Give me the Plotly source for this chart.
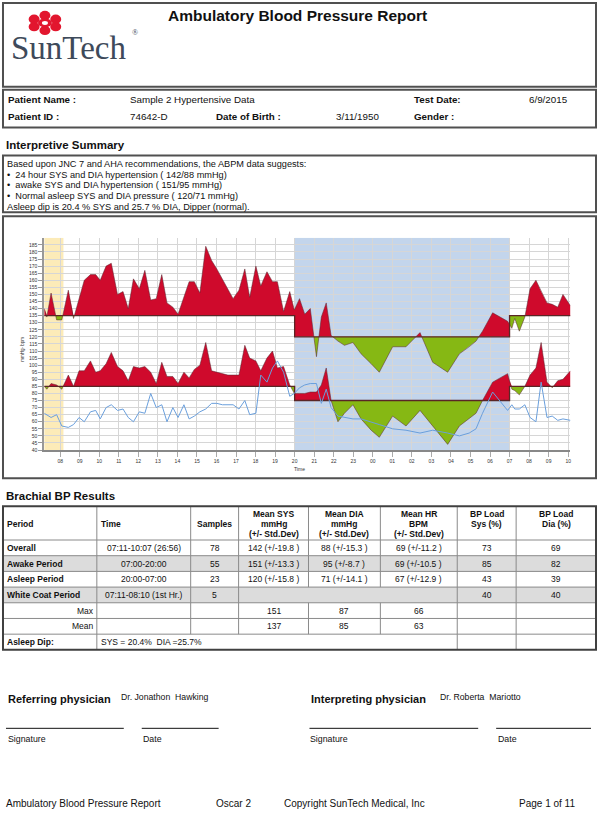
import plotly.graph_objects as go
from datetime import datetime, timedelta
import math

W, H = 600, 816
SANS = "Liberation Sans, Arial, Helvetica, sans-serif"
SERIF = "Liberation Serif, Times New Roman, serif"

# ---------------- data ----------------
times = ["07:11", "07:19", "07:32", "07:49", "08:05", "08:25", "08:41", "08:58", "09:14", "09:33",
         "09:49", "10:03", "10:21", "10:37", "10:56", "11:13", "11:29", "11:45", "12:03", "12:20",
         "12:38", "12:55", "13:12", "13:28", "13:46", "14:02", "14:20", "14:36", "14:52", "15:09",
         "15:27", "15:45", "16:01", "16:18", "16:35", "16:51", "17:09", "17:27", "17:42", "18:01",
         "18:16", "18:35", "18:52", "19:07", "19:26", "19:45", "19:59",
         "20:15", "20:31", "20:48", "21:07", "21:22", "21:37", "21:52", "22:13", "22:33", "22:59",
         "23:24", "23:55", "00:20", "01:01", "01:42", "02:25", "03:04", "03:50", "04:26", "04:56",
         "05:17", "05:37", "06:08", "06:54",
         "07:07", "07:16", "07:30", "07:47", "08:03", "08:21", "08:37", "08:55", "09:11", "09:28",
         "09:44", "10:07"]

sys_vals = [140, 134, 151, 132, 132, 153, 133, 147, 160, 164,
            164, 160, 170, 172, 150, 152, 140, 161, 154, 167,
            146, 147, 164, 144, 141, 136, 148, 159, 159, 151,
            184, 174, 168, 161, 153, 147, 153, 168, 148, 170,
            156, 166, 159, 159, 138, 152, 139,
            147, 136, 140, 106, 134, 144, 121, 117, 114, 116,
            108, 101, 95, 113, 113, 123, 102, 95, 108, 113,
            117, 124, 137, 131,
            126, 133, 124, 134, 154, 160, 152, 144, 143, 141,
            150, 142]

dia_vals = [85, 83, 87, 86, 83, 93, 85, 96, 96, 103,
            95, 96, 101, 109, 99, 96, 89, 99, 98, 99,
            95, 87, 102, 92, 92, 87, 95, 91, 97, 100,
            116, 96, 95, 94, 93, 93, 93, 114, 105, 103,
            96, 105, 110, 98, 99, 86, 80,
            80, 80, 81, 81, 86, 98, 75, 60, 66, 72,
            62, 54, 49, 64, 57, 68, 57, 44, 57, 62,
            66, 75, 88, 94,
            83, 82, 79, 85, 93, 98, 116, 88, 84, 89,
            90, 96]

hr_vals = [66, 65, 63, 65, 57, 56, 58, 63, 60, 67,
           68, 62, 70, 72, 68, 69, 63, 60, 67, 66,
           80, 70, 72, 60, 70, 63, 72, 62, 64, 67,
           69, 73, 73, 72, 72, 72, 69, 75, 65, 66,
           93, 88, 98, 103, 95, 78, 80,
           84, 86, 87, 87, 73, 83, 70, 64, 63, 62,
           62, 60, 58, 55, 54, 52, 54, 52, 50, 52,
           55, 66, 81, 68,
           72, 69, 69, 72, 63, 60, 88, 63, 64, 61,
           62, 61]

sys_limit_awake, sys_limit_asleep = 135, 120
dia_limit_awake, dia_limit_asleep = 85, 75
asleep_start, awake_start, white_coat_end = "20:00", "07:00", "08:10"
y_tick_values = list(range(40, 190, 5))

summary_lines = [
    "Based upon JNC 7 and AHA recommendations, the ABPM data suggests:",
    "\u2022  24 hour SYS and DIA hypertension ( 142/88 mmHg)",
    "\u2022  awake SYS and DIA hypertension ( 151/95 mmHg)",
    "\u2022  Normal asleep SYS and DIA pressure ( 120/71 mmHg)",
    "Asleep dip is 20.4 % SYS and 25.7 % DIA, Dipper (normal).",
]

table_header = [["Period"], ["Time"], ["Samples"],
                ["Mean SYS", "mmHg", "(+/- Std.Dev)"],
                ["Mean DIA", "mmHg", "(+/- Std.Dev)"],
                ["Mean HR", "BPM", "(+/- Std.Dev)"],
                ["BP Load", "Sys (%)"], ["BP Load", "Dia (%)"]]
table_rows = [
    ["Overall", "07:11-10:07 (26:56)", "78", "142 (+/-19.8 )", "88 (+/-15.3 )", "69 (+/-11.2 )", "73", "69"],
    ["Awake Period", "07:00-20:00", "55", "151 (+/-13.3 )", "95 (+/-8.7 )", "69 (+/-10.5 )", "85", "82"],
    ["Asleep Period", "20:00-07:00", "23", "120 (+/-15.8 )", "71 (+/-14.1 )", "67 (+/-12.9 )", "43", "39"],
    ["White Coat Period", "07:11-08:10 (1st Hr.)", "5", "", "", "", "40", "40"],
    ["Max", "", "", "151", "87", "66", "", ""],
    ["Mean", "", "", "137", "85", "63", "", ""],
    ["Asleep Dip:", "SYS = 20.4%\u00a0\u00a0DIA =25.7%", "", "", "", "", "", ""],
]

# ---------------- helpers ----------------
def hours(s):
    h, m = s.split(":")
    return int(h) + int(m) / 60.0

T = []
day, prev = 0, -1
for s in times:
    v = hours(s)
    if v < prev:
        day += 1
    prev = v
    T.append(day * 24 + v)

t_sleep = hours(asleep_start)
t_wake = 24 + hours(awake_start)
t_wc = hours(white_coat_end)
base = datetime(2015, 6, 9)
D = lambda h: base + timedelta(hours=h)


def interp(ts, vs, t):
    for i in range(len(ts) - 1):
        if ts[i] <= t <= ts[i + 1]:
            f = (t - ts[i]) / (ts[i + 1] - ts[i])
            return vs[i] + f * (vs[i + 1] - vs[i])
    return vs[-1]


def fill_polys(ts, vs, periods):
    rx, ry, gx, gy = [], [], [], []
    for a, b, thr in periods:
        pts = [(a, interp(ts, vs, a))] + [(t, v) for t, v in zip(ts, vs) if a < t < b] + [(b, interp(ts, vs, b))]
        seq = [pts[0]]
        for (t1, v1), (t2, v2) in zip(pts[:-1], pts[1:]):
            if (v1 - thr) * (v2 - thr) < 0:
                seq.append((t1 + (thr - v1) / (v2 - v1) * (t2 - t1), thr))
            seq.append((t2, v2))
        tt = [p[0] for p in seq]
        for xs, ys, fn in ((rx, ry, max), (gx, gy, min)):
            xs += [D(t) for t in tt] + [D(t) for t in reversed(tt)] + [None]
            ys += [fn(v, thr) for _, v in seq] + [thr] * len(tt) + [None]
    return rx, ry, gx, gy


RED, GREEN = "#cf0a2c", "#86b814"
fig = go.Figure()

for vals, lim_a, lim_s in ((sys_vals, sys_limit_awake, sys_limit_asleep),
                           (dia_vals, dia_limit_awake, dia_limit_asleep)):
    periods = [(T[0], t_sleep, lim_a), (t_sleep, t_wake, lim_s), (t_wake, T[-1], lim_a)]
    rx, ry, gx, gy = fill_polys(T, vals, periods)
    fig.add_trace(go.Scatter(x=rx, y=ry, fill="toself", fillcolor=RED, mode="lines",
                             line=dict(width=0), hoverinfo="skip", showlegend=False))
    fig.add_trace(go.Scatter(x=gx, y=gy, fill="toself", fillcolor=GREEN, mode="lines",
                             line=dict(width=0), hoverinfo="skip", showlegend=False))
    fig.add_trace(go.Scatter(x=[D(t) for t in T], y=vals, mode="lines",
                             line=dict(color="rgba(90,40,50,0.75)", width=0.7), showlegend=False))
    fig.add_trace(go.Scatter(x=[D(T[0]), D(t_sleep), D(t_sleep), D(t_wake), D(t_wake), D(T[-1])],
                             y=[lim_a, lim_a, lim_s, lim_s, lim_a, lim_a], mode="lines",
                             line=dict(color="#5a2626", width=1.3), showlegend=False))

fig.add_trace(go.Scatter(x=[D(t) for t in T], y=hr_vals, mode="lines",
                         line=dict(color="#6a9fdc", width=1), showlegend=False))

# ---------------- page decoration ----------------
shapes, ann = [], []


def px(x):
    return x / W


def py(y):
    return 1 - y / H


def rect(x0, y0, x1, y1, line="#505050", lw=2, fill=None, layer="above"):
    shapes.append(dict(type="rect", xref="paper", yref="paper", x0=px(x0), x1=px(x1),
                       y0=py(y1), y1=py(y0), layer=layer,
                       line=dict(color=line, width=lw) if lw else dict(width=0),
                       fillcolor=fill or "rgba(0,0,0,0)"))


def seg(x0, y0, x1, y1, color="#888", lw=1):
    shapes.append(dict(type="line", xref="paper", yref="paper", x0=px(x0), x1=px(x1),
                       y0=py(y0), y1=py(y1), line=dict(color=color, width=lw)))


def txt(x, y, s, size=10, bold=False, anchor="left", color="#111", family=SANS, angle=0):
    if bold:
        s = "<b>" + s + "</b>"
    ann.append(dict(x=px(x), y=py(y), xref="paper", yref="paper", text=s, showarrow=False,
                    xanchor=anchor, yanchor="middle", textangle=angle, borderpad=0,
                    font=dict(size=size, color=color, family=family)))


# header box + logo
rect(3, 3, 597, 87)
cx, cy = 45, 23
for k in range(6):
    a = math.radians(30 + 60 * k)
    bx, by = cx + 12.5 * math.cos(a), cy + 7.5 * math.sin(a)
    shapes.append(dict(type="circle", xref="paper", yref="paper", x0=px(bx - 5.5), x1=px(bx + 5.5),
                       y0=py(by + 4.6), y1=py(by - 4.6), fillcolor="#e2162e", line=dict(width=0)))
shapes.append(dict(type="circle", xref="paper", yref="paper", x0=px(cx - 7), x1=px(cx + 7),
                   y0=py(cy + 4.5), y1=py(cy - 4.5), fillcolor="#e2162e", line=dict(width=0)))
shapes.append(dict(type="circle", xref="paper", yref="paper", x0=px(cx - 3), x1=px(cx + 3),
                   y0=py(cy + 2), y1=py(cy - 2), fillcolor="white", line=dict(width=0)))
txt(10, 48, "SunTech", 33, color="#3e4a5a", family=SERIF)
txt(131, 33, "\u00ae", 8, color="#3e4a5a", family=SERIF)
txt(298, 16, "Ambulatory Blood Pressure Report", 15.5, bold=True, anchor="center")

# patient box
rect(3, 90, 597, 128)
txt(7, 100, "Patient Name :", 9.8, bold=True)
txt(129, 100, "Sample 2 Hypertensive Data", 9.8)
txt(414, 100, "Test Date:", 9.8, bold=True)
txt(529, 100, "6/9/2015", 9.8)
txt(7, 117, "Patient ID :", 9.8, bold=True)
txt(129, 117, "74642-D", 9.8)
txt(215, 117, "Date of Birth :", 9.8, bold=True)
txt(336, 117, "3/11/1950", 9.8)
txt(414, 117, "Gender :", 9.8, bold=True)

# summary
txt(5, 146, "Interpretive Summary", 11.5, bold=True)
rect(3, 156, 597, 213)
for i, s in enumerate(summary_lines):
    txt(6, 164.5 + i * 10.7, s, 9.2)

# chart box
rect(3, 217, 597, 480)
txt(23, 350, "mmHg- bpm", 4.5, angle=-90, anchor="center", color="#333")
txt(300, 471, "Time", 5, anchor="center", color="#333")

# table
txt(5, 498, "Brachial BP Results", 11.5, bold=True)
cols = [3, 97, 191, 239, 309, 381, 458, 517, 597]
tb_top, hd_bot, row_h = 508, 542, 15.75
row_y = [hd_bot + i * row_h for i in range(len(table_rows) + 1)]
for i in (1, 3):
    rect(3, row_y[i], 597, row_y[i + 1], lw=0, fill="#dcdcdc", layer="below")
for y in row_y[:-1]:
    seg(3, y, 597, y, "#8a8a8a", 1)
for x in cols[1:-1]:
    seg(x, tb_top, x, hd_bot, "#8a8a8a", 1)
skip = {3: {309, 381}, 6: {191, 239, 309, 381}}
for r in range(len(table_rows)):
    for x in cols[1:-1]:
        if x in skip.get(r, set()):
            continue
        seg(x, row_y[r], x, row_y[r + 1], "#8a8a8a", 1)
rect(3, tb_top, 597, row_y[-1], line="#404040", lw=2)

line_y = [516, 526, 536]
for c, lines in enumerate(table_header):
    ys = [526] if len(lines) == 1 else line_y[:len(lines)]
    for s, y in zip(lines, ys):
        if c <= 1:
            txt(cols[c] + 3, y, s, 8.5, bold=True)
        else:
            txt((cols[c] + cols[c + 1]) / 2, y, s, 8.5, bold=True, anchor="center")

for r, row in enumerate(table_rows):
    yc = (row_y[r] + row_y[r + 1]) / 2
    for c, s in enumerate(row):
        if not s:
            continue
        if c == 0:
            if s in ("Max", "Mean"):
                txt(cols[1] - 2, yc, s, 8.5, anchor="right")
            else:
                txt(cols[0] + 3, yc, s, 8.5, bold=True)
        elif r == 6 and c == 1:
            txt(cols[1] + 3, yc, s, 8.5)
        else:
            txt((cols[c] + cols[c + 1]) / 2, yc, s, 8.5, anchor="center")

# physicians
txt(7, 702, "Referring physician", 11, bold=True)
txt(120, 700, "Dr. Jonathon\u00a0\u00a0Hawking", 8.7)
txt(311, 702, "Interpreting physician", 11, bold=True)
txt(440, 700, "Dr. Roberta\u00a0\u00a0Mariotto", 8.7)
for x0, x1 in ((6, 124), (142, 219), (310, 479), (497, 592)):
    seg(x0, 731, x1, 731, "#111", 1)
txt(7, 742, "Signature", 8.8)
txt(142, 742, "Date", 8.8)
txt(310, 742, "Signature", 8.8)
txt(498, 742, "Date", 8.8)

# footer
txt(5, 806, "Ambulatory Blood Pressure Report", 10)
txt(215, 806, "Oscar 2", 10)
txt(283, 806, "Copyright SunTech Medical, Inc", 10)
txt(519, 806, "Page 1 of 11", 10)

# bands in plot
shapes.append(dict(type="rect", xref="x", yref="y", x0=D(T[0]), x1=D(t_wc), y0=40, y1=190,
                   fillcolor="#fcebb8", line=dict(width=0), layer="below"))
shapes.append(dict(type="rect", xref="x", yref="y", x0=D(t_sleep), x1=D(t_wake), y0=40, y1=190,
                   fillcolor="#c3d5ec", line=dict(width=0), layer="below"))

PX0, PX1, PYT, PYB = 44.3, 571.4, 238.7, 451.7
fig.update_layout(
    width=W, height=H, autosize=False,
    margin=dict(l=0, r=0, t=0, b=0),
    paper_bgcolor="white", plot_bgcolor="white",
    shapes=shapes, annotations=ann, showlegend=False,
    font=dict(family=SANS),
    xaxis=dict(type="date", range=[D(T[0]), D(T[-1])], domain=[px(PX0), px(PX1)],
               tick0=D(8), dtick=3600000, tickformat="%H", tickfont=dict(size=5, color="#333"),
               showgrid=True, gridcolor="#d6d6d6", gridwidth=1, showline=True, linecolor="#888",
               linewidth=2, ticks="outside", ticklen=5, tickcolor="#aaa", zeroline=False,
               fixedrange=True),
    yaxis=dict(range=[40, 190], domain=[py(PYB), py(PYT)], tickmode="array",
               tickvals=y_tick_values, tickfont=dict(size=5, color="#333"),
               showgrid=True, gridcolor="#d6d6d6", gridwidth=1, showline=True, linecolor="#999",
               linewidth=2, ticks="outside", ticklen=4, tickcolor="#999", zeroline=False,
               fixedrange=True),
)

fig.write_html("out.html", config={"displayModeBar": False},
               post_script="document.body.style.margin='0';document.body.style.overflow='hidden';")
